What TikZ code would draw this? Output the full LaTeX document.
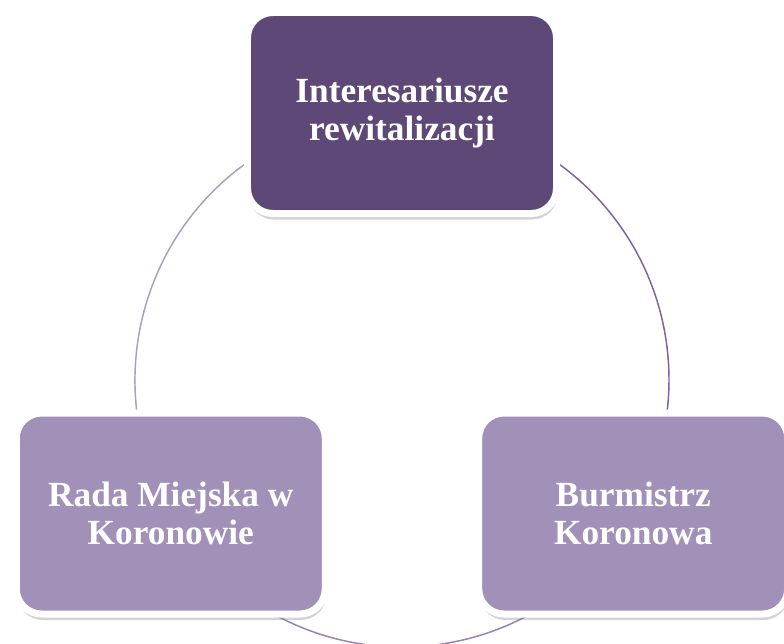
\documentclass[tikz,border=0pt]{standalone}
\usepackage{fontspec}
\setmainfont{Liberation Serif}
\usetikzlibrary{shadows, backgrounds}

\definecolor{darkviolet}{HTML}{5E4878}
\definecolor{lightviolet}{HTML}{A191B8}
\definecolor{arcdark}{HTML}{7B63A3}
\definecolor{arcmid}{HTML}{9483B6}
\definecolor{arclight}{HTML}{AA9DC6}

\begin{document}
\begin{tikzpicture}[x=0.75pt, y=0.75pt,
  box/.style={draw=white, line width=5.25pt, rounded corners=19pt,
    minimum width=231.75pt, minimum height=150.75pt,
    text=white, align=center,
    font=\fontsize{26.5}{28}\selectfont\bfseries,
    drop shadow={shadow xshift=0.75pt, shadow yshift=-4.5pt, opacity=0.35}},
  cycle/.style={line width=1.1pt}]
\useasboundingbox (-402,-263) rectangle (382,380);
\node[box, fill=darkviolet] (inter) at (90:267) {Interesariusze\\rewitalizacji};
\node[box, fill=lightviolet] (burm) at (330:267) {Burmistrz\\Koronowa};
\node[box, fill=lightviolet] (rada) at (210:267) {Rada Miejska w\\Koronowie};
\begin{scope}[on background layer]
\draw[cycle, arcdark] (inter.center) arc[start angle=90, end angle=-30, radius=267];
\draw[cycle, arcmid] (burm.center) arc[start angle=-30, end angle=-150, radius=267];
\draw[cycle, arclight] (rada.center) arc[start angle=210, end angle=90, radius=267];
\end{scope}
\end{tikzpicture}
\end{document}
